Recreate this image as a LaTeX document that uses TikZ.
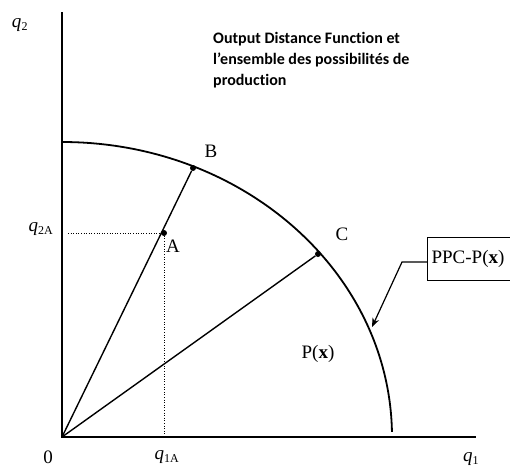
\documentclass[tikz,border=0pt]{standalone}
\usepackage{fontspec}
\setmainfont{Liberation Serif}
\newfontfamily\titlefont[Ligatures=NoCommon]{Carlito}
\usetikzlibrary{arrows.meta}
\begin{document}
\begin{tikzpicture}[x=1pt,y=-1pt,
  axis/.style={line width=1.6pt},
  ray/.style={line width=1.4pt},
  guide/.style={line width=0.6pt, dotted},
  dot/.style={circle, fill=black, inner sep=0pt, minimum size=6pt},
  lbl/.style={font=\fontsize{19}{20}\selectfont, inner sep=0pt},
  ilbl/.style={font=\fontsize{19}{20}\selectfont\itshape, inner sep=0pt},
  titletext/.style={font=\titlefont\bfseries\fontsize{16}{21}\selectfont, align=left, inner sep=0pt, anchor=north west},
  boxnode/.style={draw, line width=1.2pt, font=\fontsize{19}{20}\selectfont, inner xsep=3pt, minimum height=43pt, minimum width=92pt, text width=84pt, align=left, anchor=west}
]
\useasboundingbox (0,0) rectangle (510,467);
% axes
\coordinate (O) at (62,437);
\coordinate (ytop) at (62,12);
\coordinate (xend) at (476,437);
\draw[axis] (ytop) -- (O) -- (xend);
% frontier
\draw[line width=1.8pt] (62,142) arc[start angle=90, end angle=1, x radius=330, y radius=-295];
% points
\node[dot] (B) at (193,168) {};
\node[dot] (C) at (318,254) {};
\node[dot] (A) at (164,233) {};
\draw[ray] (O) -- (B);
\draw[ray] (O) -- (C);
% guides
\coordinate (yA) at (68,233);
\coordinate (xA) at (164,437);
\draw[guide] (yA) -- (A.center) -- (xA);
% labels
\node[lbl] (lA) at (173,246) {A};
\node[lbl] (lB) at (211,151) {B};
\node[lbl] (lC) at (342,234) {C};
\node[lbl] (lP) at (318,354) {P(\textbf{x})};
\node[lbl] (l0) at (48,457) {0};
\node[ilbl] (lq1A) at (167,457) {q\textsubscript{\upshape\fontsize{12}{12}\selectfont 1A}};
\node[ilbl] (lq1) at (471,459) {q\textsubscript{\upshape\fontsize{12}{12}\selectfont 1}};
\node[ilbl] (lq2) at (20,25) {q\textsubscript{\upshape\fontsize{12}{12}\selectfont 2}};
\node[ilbl] (lq2A) at (41,229) {q\textsubscript{\upshape\fontsize{12}{12}\selectfont 2A}};
% box
\node[boxnode] (box) at (427,259) {PPC-P(\textbf{x})};
\coordinate (bend) at (402,262);
\coordinate (tip) at (372,327);
\draw[line width=1.2pt, -{Stealth[length=9pt,width=7pt]}] (box.west |- bend) -- (bend) -- (tip);
% title
\node[titletext] (title) at (213,32) {Output Distance Function et\\l’ensemble des possibilités de\\production};
\end{tikzpicture}
\end{document}
